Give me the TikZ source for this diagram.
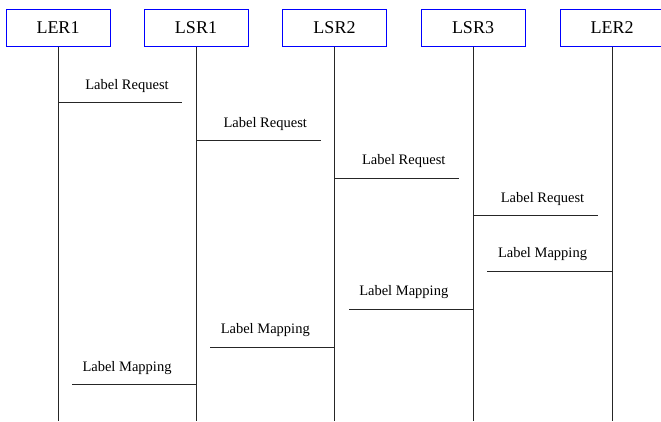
\documentclass[tikz,border=0pt]{standalone}
\usepackage{fontspec}
\setmainfont{Liberation Serif}
\usetikzlibrary{calc}
\begin{document}
\begin{tikzpicture}[x=1pt,y=-1pt,
  actor/.style={draw=blue, line width=1pt, fill=white, minimum width=104pt,
    minimum height=37pt, inner sep=0pt, font=\fontsize{18}{20}\selectfont},
  life/.style={draw=black!85, line width=0.9pt},
  msg/.style={draw=black!85, line width=0.9pt},
  lbl/.style={font=\fontsize{14.5}{16}\selectfont, inner sep=0pt, anchor=base}]
\useasboundingbox (0,0) rectangle (661,421);

% participants
\node[actor] (ler1) at (58,27.5)  {LER1};
\node[actor] (lsr1) at (196,27.5) {LSR1};
\node[actor] (lsr2) at (334.5,27.5) {LSR2};
\node[actor] (lsr3) at (473,27.5) {LSR3};
\node[actor] (ler2) at (612,27.5) {LER2};

% lifelines
\foreach \p in {ler1,lsr1,lsr2,lsr3,ler2}{
  \coordinate (\p-end) at (\p.south |- 0,421);
  \draw[life] (\p.south) -- (\p-end);
}

% Label Request, downstream
\foreach \a/\b/\y [count=\i] in {ler1/lsr1/102.5, lsr1/lsr2/140.5, lsr2/lsr3/178, lsr3/ler2/215.5}{
  \coordinate (rq\i) at (\a |- 0,\y);
  \coordinate (rq\i-end) at ($(\b |- 0,\y)+(-14,0)$);
  \draw[msg] (rq\i) -- (rq\i-end);
  \node[lbl] (rq\i-lbl) at ($(\a |- 0,\y)!0.5!(\b |- 0,\y)+(0,-13.5)$) {Label Request};
}

% Label Mapping, upstream
\foreach \a/\b/\y [count=\i] in {lsr3/ler2/271, lsr2/lsr3/309, lsr1/lsr2/347, ler1/lsr1/384.5}{
  \coordinate (mp\i) at (\b |- 0,\y);
  \coordinate (mp\i-end) at ($(\a |- 0,\y)+(14,0)$);
  \draw[msg] (mp\i) -- (mp\i-end);
  \node[lbl] (mp\i-lbl) at ($(\a |- 0,\y)!0.5!(\b |- 0,\y)+(0,-13.5)$) {Label Mapping};
}
\end{tikzpicture}
\end{document}
